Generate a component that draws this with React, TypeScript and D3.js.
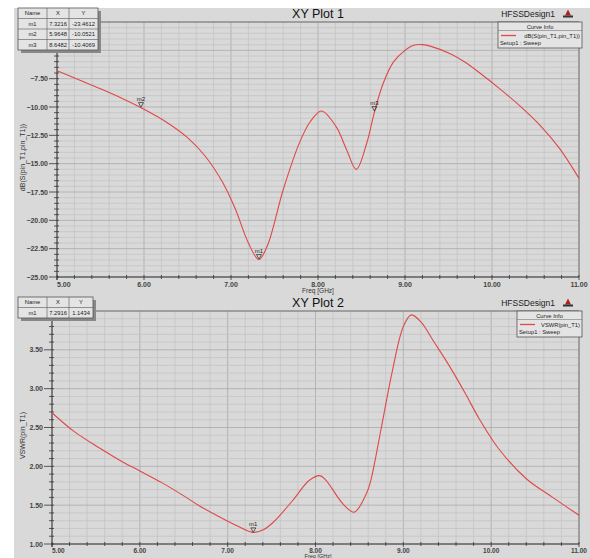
import React from "react";
import * as d3 from "d3";

const s11Freq = [5.0, 5.25, 5.5, 5.75, 6.0, 6.25, 6.5, 6.7, 6.9, 7.05, 7.2, 7.32, 7.42, 7.6, 7.79, 7.91, 8.04, 8.21, 8.33, 8.44, 8.56, 8.65, 8.75, 8.87, 9.0, 9.1, 9.2, 9.3, 9.52, 9.7, 9.86, 10.09, 10.32, 10.55, 10.78, 11.0];
const s11Db = [-6.8, -7.6, -8.4, -9.25, -10.2, -11.3, -12.7, -14.3, -16.6, -19.0, -22.0, -23.46, -22.2, -17.3, -13.1, -11.3, -10.35, -11.75, -13.8, -15.5, -13.2, -10.4, -7.9, -6.0, -5.0, -4.55, -4.5, -4.65, -5.3, -6.1, -7.0, -8.4, -9.9, -11.6, -13.7, -16.3];

const vswrFreq = [5.0, 5.25, 5.55, 5.8, 6.0, 6.25, 6.5, 6.68, 6.99, 7.15, 7.29, 7.4, 7.52, 7.74, 7.93, 8.05, 8.12, 8.31, 8.44, 8.58, 8.63, 8.75, 8.87, 9.0, 9.09, 9.2, 9.35, 9.52, 9.7, 9.86, 10.09, 10.4, 10.7, 11.0];
const vswrVal = [2.69, 2.45, 2.23, 2.06, 1.94, 1.79, 1.62, 1.49, 1.3, 1.21, 1.15, 1.18, 1.28, 1.56, 1.82, 1.88, 1.82, 1.52, 1.41, 1.65, 1.82, 2.5, 3.2, 3.8, 3.95, 3.86, 3.6, 3.3, 2.95, 2.62, 2.22, 1.84, 1.6, 1.37];

const freqTicks = [5, 6, 7, 8, 9, 10, 11];
const s11Ticks = [-25, -22.5, -20, -17.5, -15, -12.5, -10, -7.5, -5];
const vswrTicks = [1, 1.5, 2, 2.5, 3, 3.5];

const s11Markers = [
  { name: "m1", x: 7.3216, y: -23.4612 },
  { name: "m2", x: 5.9648, y: -10.0521 },
  { name: "m3", x: 8.6482, y: -10.4069 },
];
const vswrMarkers = [{ name: "m1", x: 7.2916, y: 1.1434 }];

const FONT = "'Liberation Sans', Arial, sans-serif";
const BG = "#d9d9d9";

type Props = {
  top: number;
  left: number;
  bottom: number;
  title: string;
  yLabel: string;
  curveName: string;
  yDomain: [number, number];
  yTicks: number[];
  yMinor: number;
  freq: number[];
  vals: number[];
  markers: { name: string; x: number; y: number }[];
  infoX: number;
  tight?: boolean;
};

function Plot(p: Props) {
  const right = 579;
  const x = d3.scaleLinear().domain([5, 11]).range([p.left, right]);
  const y = d3.scaleLinear().domain(p.yDomain).range([p.bottom, p.top]);
  const minorX = d3.range(5, 11.001, 0.2);
  const nMinor = Math.round((p.yDomain[1] - p.yDomain[0]) / p.yMinor);
  const minorY = d3.range(0, nMinor + 1).map((i) => p.yDomain[0] + i * p.yMinor);
  const pts = p.freq.map((f, i) => [f, p.vals[i]] as [number, number]);
  const line = d3
    .line<[number, number]>()
    .x((d) => x(d[0]))
    .y((d) => y(d[1]))
    .curve(d3.curveCatmullRom.alpha(0.5));
  const fmt = d3.format(".2f");
  const titleY = p.top - 4.5;
  const rows = [["Name", "X", "Y"], ...p.markers.map((m) => [m.name, m.x.toFixed(4), m.y.toFixed(4)])];
  const colX = [18, 47, 69];
  const colW = [29, 22, p.markers.length > 1 ? 29 : 24];
  const tblW = colW[0] + colW[1] + colW[2];
  const rowH = 10.5;
  const tblTop = p.top - 14;
  // bottom of the page cuts the second plot's axis title, so squeeze it a little
  const xlY = p.tight ? p.bottom + 8.5 : p.bottom + 10;
  const xlSize = p.tight ? 6.5 : 7;
  const freqY = p.tight ? p.bottom + 14 : p.bottom + 15.5;
  const freqSize = p.tight ? 5.5 : 6.5;
  return (
    <g>
      <text x={318} y={titleY} textAnchor="middle" fontSize={12.5} fontFamily={FONT} fill="#111">
        {p.title}
      </text>
      <text x={555} y={titleY - 1} textAnchor="end" fontSize={8.5} fontFamily={FONT} fill="#222">
        HFSSDesign1
      </text>
      <path d={`M565,${titleY - 2} l3,-6 l3,6 z`} fill="#b02020" />
      <rect x={563} y={titleY - 2} width={10} height={2} fill="#333" />

      {/* grid */}
      {minorX.map((v, i) => (
        <line key={"vx" + i} x1={x(v)} x2={x(v)} y1={p.top} y2={p.bottom} stroke={i % 5 === 0 ? "#a9a9a9" : "#c4c4c4"} strokeWidth={0.8} />
      ))}
      {minorY.map((v, i) => (
        <line key={"hy" + i} x1={p.left} x2={right} y1={y(v)} y2={y(v)} stroke={i % 5 === 0 ? "#a9a9a9" : "#c4c4c4"} strokeWidth={0.8} />
      ))}
      <line x1={p.left} x2={right} y1={p.top} y2={p.top} stroke="#777" strokeWidth={1} />
      <line x1={right} x2={right} y1={p.top} y2={p.bottom} stroke="#777" strokeWidth={1} />
      {/* axes */}
      <line x1={p.left} x2={right} y1={p.bottom} y2={p.bottom} stroke="#333" strokeWidth={1} />
      <line x1={p.left} x2={p.left} y1={p.top} y2={p.bottom + 3} stroke="#333" strokeWidth={1} />
      {minorX.map((v, i) => (
        <line key={"tx" + i} x1={x(v)} x2={x(v)} y1={p.bottom - 2} y2={p.bottom + (i % 5 === 0 ? 3 : 2)} stroke="#333" strokeWidth={0.8} />
      ))}
      {minorY.map((v, i) => (
        <line key={"ty" + i} x1={p.left - (i % 5 === 0 ? 8 : 3)} x2={p.left + 2} y1={y(v)} y2={y(v)} stroke="#333" strokeWidth={0.8} />
      ))}
      {freqTicks.map((v) => (
        <text key={"xl" + v} x={x(v)} y={xlY} textAnchor={v === 5 ? "start" : "middle"} fontSize={xlSize} fontWeight="bold" fontFamily={FONT} fill="#444">
          {fmt(v)}
        </text>
      ))}
      {p.yTicks.map((v) => (
        <text key={"yl" + v} x={p.left - 9} y={y(v) + 2.5} textAnchor="end" fontSize={7} fontWeight="bold" fontFamily={FONT} fill="#444">
          {fmt(v)}
        </text>
      ))}
      <text x={318} y={freqY} textAnchor="middle" fontSize={freqSize} fontFamily={FONT} fill="#333">
        Freq [GHz]
      </text>
      <text transform={`translate(25,${(p.top + p.bottom) / 2 + 8}) rotate(-90)`} textAnchor="middle" fontSize={7} fontFamily={FONT} fill="#333">
        {p.yLabel}
      </text>

      {/* curve */}
      <path d={line(pts) || ""} fill="none" stroke="#e04848" strokeWidth={1.1} />

      {/* markers */}
      {p.markers.map((m) => (
        <g key={m.name}>
          <path d={`M${x(m.x) - 2.5},${y(m.y) - 5} h5 l-2.5,4.5 z`} fill="none" stroke="#222" strokeWidth={0.7} />
          <text x={x(m.x)} y={y(m.y) - 6.5} textAnchor="middle" fontSize={6} fontFamily={FONT} fill="#222">
            {m.name}
          </text>
        </g>
      ))}

      {/* marker table */}
      <rect x={colX[0] + 3} y={tblTop + 3} width={tblW} height={rowH * rows.length} fill="#888" />
      <rect x={colX[0]} y={tblTop} width={tblW} height={rowH * rows.length} fill="#e4e4e4" stroke="#555" strokeWidth={0.8} />
      {rows.map((r, ri) => (
        <g key={"r" + ri}>
          {ri > 0 && <line x1={colX[0]} x2={colX[0] + tblW} y1={tblTop + ri * rowH} y2={tblTop + ri * rowH} stroke="#555" strokeWidth={0.6} />}
          {r.map((c, ci) => (
            <text key={ci} x={colX[ci] + colW[ci] / 2} y={tblTop + ri * rowH + 7.3} textAnchor="middle" fontSize={5.8} fontFamily={FONT} fill="#222">
              {c}
            </text>
          ))}
        </g>
      ))}
      {[1, 2].map((ci) => (
        <line key={"c" + ci} x1={colX[ci]} x2={colX[ci]} y1={tblTop} y2={tblTop + rowH * rows.length} stroke="#555" strokeWidth={0.6} />
      ))}

      {/* curve info */}
      <rect x={p.infoX} y={p.top} width={582 - p.infoX} height={26} fill="#e4e4e4" stroke="#555" strokeWidth={0.8} />
      <line x1={p.infoX} x2={582} y1={p.top + 8.5} y2={p.top + 8.5} stroke="#777" strokeWidth={0.6} />
      <text x={(p.infoX + 582) / 2} y={p.top + 6.8} textAnchor="middle" fontSize={5.8} fontFamily={FONT} fill="#222">
        Curve Info
      </text>
      <line x1={p.infoX + 3} x2={p.infoX + 18} y1={p.top + 13.5} y2={p.top + 13.5} stroke="#e04848" strokeWidth={1.3} />
      <text x={580} y={p.top + 15.5} textAnchor="end" fontSize={5.8} fontFamily={FONT} fill="#222">
        {p.curveName}
      </text>
      <text x={p.infoX + 2} y={p.top + 23} fontSize={5.8} fontFamily={FONT} fill="#222">
        Setup1 : Sweep
      </text>
    </g>
  );
}

export default function App() {
  return (
    <svg width={590} height={558} style={{ position: "absolute", left: 0, top: 0 }}>
      <rect x={0} y={0} width={590} height={558} fill="#fff" />
      <rect x={14} y={8} width={576} height={550} fill={BG} />
      <Plot
        top={22}
        left={57}
        bottom={277}
        title="XY Plot 1"
        yLabel="dB(S(pin_T1,pin_T1))"
        curveName="dB(S(pin_T1,pin_T1))"
        yDomain={[-25, -2.5]}
        yTicks={s11Ticks}
        yMinor={0.5}
        freq={s11Freq}
        vals={s11Db}
        markers={s11Markers}
        infoX={498}
      />
      <Plot
        top={311}
        left={52}
        bottom={544}
        title="XY Plot 2"
        yLabel="VSWR(pin_T1)"
        curveName="VSWR(pin_T1)"
        yDomain={[1, 4]}
        yTicks={vswrTicks}
        yMinor={0.1}
        freq={vswrFreq}
        vals={vswrVal}
        markers={vswrMarkers}
        infoX={517}
        tight
      />
    </svg>
  );
}
